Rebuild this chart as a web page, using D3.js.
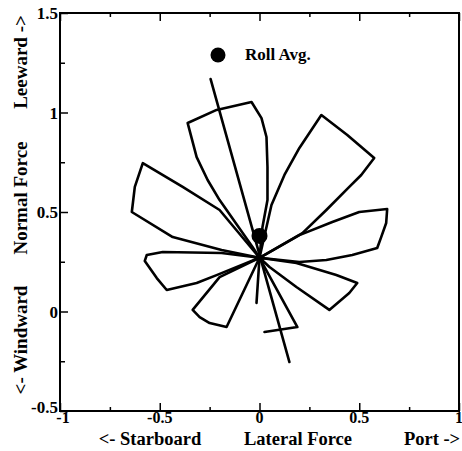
<!DOCTYPE html>
<html><head><meta charset="utf-8">
<script src="https://cdn.jsdelivr.net/npm/d3@7"></script>
<style>html,body{margin:0;padding:0;background:#fff;}svg{display:block;}
text{font-family:"Liberation Serif","Times New Roman",serif;font-weight:bold;fill:#000;}</style>
</head><body>
<script>
// Data (lateral force x, normal force y)
const center = [0, 0.27];
const rollAvg = [0, 0.38];
const petalTop = [[0,0.27],[-0.035,0.324],[-0.2,0.56],[-0.26,0.661],[-0.315,0.776],[-0.36,0.947],[-0.215,1.013],[-0.04,1.053],[0.01,0.972],[0.035,0.877],[0.04,0.726],[0.04,0.56],[0.015,0.425],[0,0.27]];
const petalUpperRight = [[0,0.27],[0.06,0.535],[0.125,0.686],[0.2,0.822],[0.31,0.987],[0.44,0.887],[0.575,0.771],[0.51,0.686],[0.45,0.626],[0.335,0.51],[0.215,0.394],[0,0.27]];
const petalRight = [[0,0.27],[0.2,0.384],[0.365,0.45],[0.5,0.5],[0.64,0.515],[0.635,0.445],[0.61,0.374],[0.59,0.319],[0.465,0.284],[0.335,0.259],[0.2,0.249],[0,0.27]];
const petalLowerRight = [[0,0.27],[0.185,0.244],[0.385,0.183],[0.49,0.143],[0.45,0.093],[0.35,0.008],[0.185,0.123],[0.05,0.224],[0,0.27]];
const petalDown = [[0,0.27],[0.19,-0.078],[0.025,-0.103]];
const stubDown = [[0,0.27],[-0.015,0.043]];
const petalLowerLeft = [[0,0.27],[-0.2,0.173],[-0.335,0.008],[-0.3,-0.028],[-0.25,-0.058],[-0.165,-0.078],[0,0.27]];
const petalLeft = [[0,0.27],[-0.19,0.294],[-0.485,0.299],[-0.565,0.284],[-0.575,0.254],[-0.515,0.168],[-0.465,0.108],[-0.315,0.143],[-0.215,0.183],[0,0.27]];
const petalUpperLeft = [[0,0.27],[-0.2,0.51],[-0.385,0.626],[-0.585,0.746],[-0.625,0.626],[-0.64,0.5],[-0.435,0.374],[-0.19,0.309],[0,0.27]];
const rollLine = [[-0.245,1.168],[0.15,-0.254]];
const xTicks = [-1,-0.5,0,0.5,1];
const xTickLabels = ["-1","-0.5","0","0.5","1"];
const yTicks = [-0.5,0,0.5,1,1.5];
const yTickLabels = ["-0.5","0","0.5","1","1.5"];
const minorTicks = [-0.75,-0.25,0.25,0.75];
const minorTicksY = [-0.25,0.25,0.75,1.25];

const W=462,H=451;
const svg=d3.select("body").append("svg").attr("width",W).attr("height",H);
const x=d3.scaleLinear().domain([-1,1]).range([60,459]);
const y=d3.scaleLinear().domain([-0.5,1.5]).range([411,13]);

// frame
svg.append("rect").attr("x",x(-1)).attr("y",y(1.5)).attr("width",x(1)-x(-1)).attr("height",y(-0.5)-y(1.5))
  .attr("fill","none").attr("stroke","#000").attr("stroke-width",2);

function ticks(axisGen, vals, size, transform){
  const g=svg.append("g").attr("transform",transform)
    .call(axisGen.tickValues(vals).tickSizeInner(size).tickSizeOuter(0).tickFormat(""));
  g.select(".domain").remove();
  g.selectAll("line").attr("stroke","#000").attr("stroke-width",1.5);
  return g;
}
ticks(d3.axisBottom(x), xTicks, -8, `translate(0,${y(-0.5)})`);
ticks(d3.axisBottom(x), minorTicks, -4, `translate(0,${y(-0.5)})`);
ticks(d3.axisTop(x), xTicks, -8, `translate(0,${y(1.5)})`);
ticks(d3.axisTop(x), minorTicks, -4, `translate(0,${y(1.5)})`);
ticks(d3.axisLeft(y), yTicks, -8, `translate(${x(-1)},0)`);
ticks(d3.axisLeft(y), minorTicksY, -5, `translate(${x(-1)},0)`);

// tick labels
svg.append("g").selectAll("text").data(xTicks).join("text")
  .attr("x",(d,i)=>x(d)+(i===0?3:0)).attr("y",423).attr("text-anchor","middle").attr("font-size",16)
  .text((d,i)=>xTickLabels[i]);
svg.append("g").selectAll("text").data(yTicks).join("text")
  .attr("x",58).attr("y",(d,i)=>y(d)+(i===0?2:6)).attr("text-anchor","end").attr("font-size",17)
  .text((d,i)=>yTickLabels[i]);

// axis titles
const xt=[["<- Starboard",150],["Lateral Force",298],["Port ->",432]];
svg.append("g").selectAll("text").data(xt).join("text")
  .attr("x",d=>d[1]).attr("y",445).attr("text-anchor","middle").attr("font-size",18.5)
  .text(d=>d[0]);
const yt=[["Leeward ->",62],["Normal Force",198],["<- Windward",340]];
svg.append("g").selectAll("text").data(yt).join("text")
  .attr("transform",d=>`translate(27,${d[1]}) rotate(-90)`).attr("text-anchor","middle").attr("font-size",19)
  .text(d=>d[0]);

// petals
const line=d3.line().x(d=>x(d[0])).y(d=>y(d[1])).curve(d3.curveLinear);
const paths=[petalTop,petalUpperRight,petalRight,petalLowerRight,petalDown,stubDown,petalLowerLeft,petalLeft,petalUpperLeft,rollLine];
svg.append("g").selectAll("path").data(paths).join("path")
  .attr("d",line).attr("fill","none").attr("stroke","#000").attr("stroke-width",2.6)
  .attr("stroke-linejoin","round").attr("stroke-linecap","round");

// roll average marker
svg.append("circle").attr("cx",x(rollAvg[0])).attr("cy",y(rollAvg[1])).attr("r",8).attr("fill","#000");

// legend
svg.append("circle").attr("cx",218).attr("cy",55).attr("r",7.5).attr("fill","#000");
svg.append("text").attr("x",245).attr("y",60).attr("font-size",17).text("Roll Avg.");
</script>
</body></html>
